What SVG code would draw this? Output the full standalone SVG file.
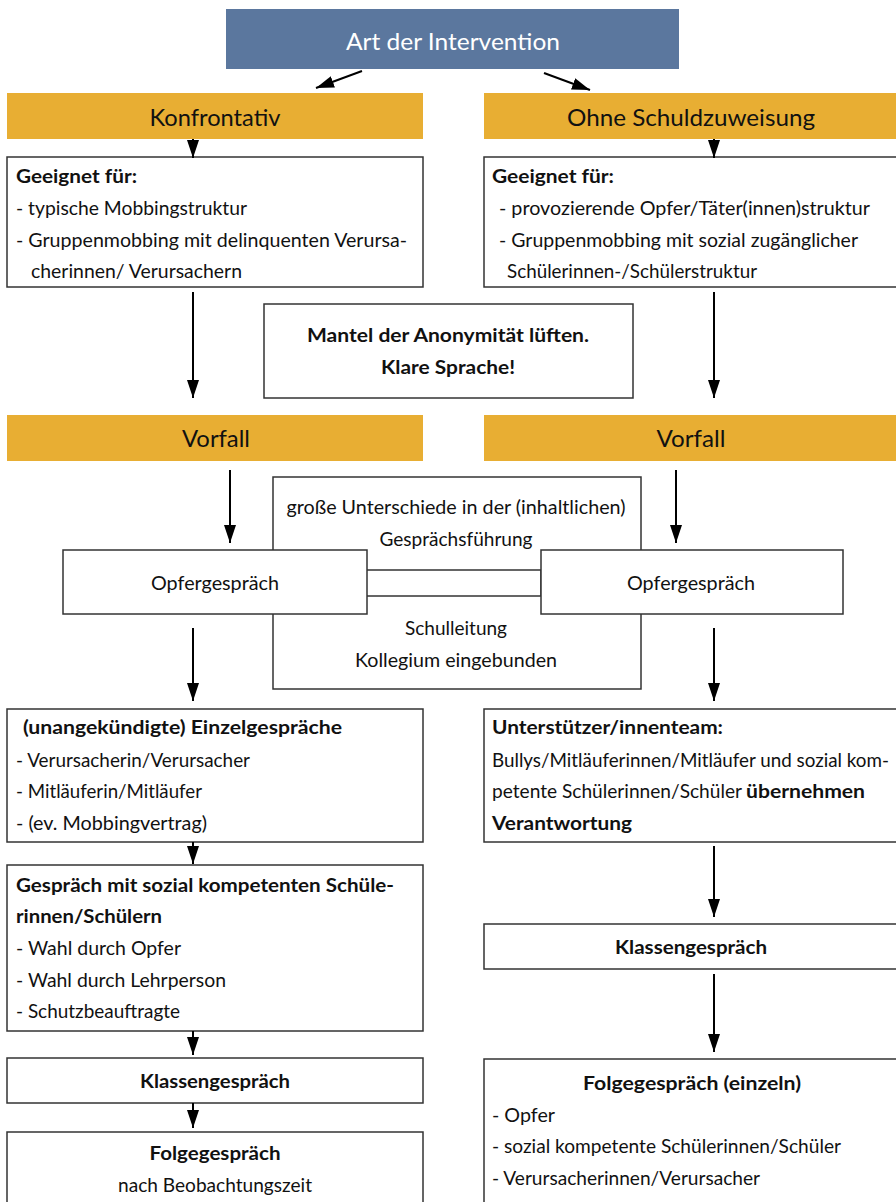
<svg xmlns="http://www.w3.org/2000/svg" width="896" height="1202" viewBox="0 0 896 1202">
<style>
text{font-family:Lato,"Open Sans","Liberation Sans",sans-serif;fill:#111;}
.t{font-size:19px;}
.m{font-size:20px;}
.b{font-size:19px;font-weight:bold;}
.h{font-size:24px;}
.c{text-anchor:middle;}
.box{fill:#fff;stroke:#333;stroke-width:1.5;}
.bar{fill:#e8ae33;}
.con line{stroke:#000;stroke-width:2;marker-end:url(#ah);}
</style>
<defs>
<marker id="ah" viewBox="0 0 18 12" refX="18" refY="6" markerWidth="18" markerHeight="12" markerUnits="userSpaceOnUse" orient="auto">
<path d="M0,0 L18,6 L0,12 z" fill="#000"/>
</marker>
</defs>
<rect width="896" height="1202" fill="#fff"/>

<g id="n-art">
<rect x="226" y="9" width="453" height="60" fill="#5b779e"/>
<text class="h c" x="453" y="50" style="fill:#fff" textLength="214" lengthAdjust="spacingAndGlyphs">Art der Intervention</text>
</g>

<g id="n-konf">
<rect class="bar" x="7" y="93" width="416" height="46"/>
<text class="h c" x="215" y="126" textLength="131" lengthAdjust="spacingAndGlyphs">Konfrontativ</text>
</g>
<g id="n-ohne">
<rect class="bar" x="484" y="93" width="412" height="46"/>
<text class="h c" x="691" y="126" textLength="248" lengthAdjust="spacingAndGlyphs">Ohne Schuldzuweisung</text>
</g>

<g id="n-geeignet-l">
<rect class="box" x="7" y="157" width="416" height="130"/>
<text class="b" x="16" y="183" textLength="121" lengthAdjust="spacingAndGlyphs">Geeignet für:</text>
<text class="t" x="16" y="215" textLength="231" lengthAdjust="spacingAndGlyphs">- typische Mobbingstruktur</text>
<text class="t" x="16" y="247" textLength="391" lengthAdjust="spacingAndGlyphs">- Gruppenmobbing mit delinquenten Verursa-</text>
<text class="t" x="31" y="278" textLength="211" lengthAdjust="spacingAndGlyphs">cherinnen/  Verursachern</text>
</g>
<g id="n-geeignet-r">
<rect class="box" x="484" y="157" width="420" height="130"/>
<text class="b" x="492" y="183" textLength="122" lengthAdjust="spacingAndGlyphs">Geeignet für:</text>
<text class="t" x="499" y="215" textLength="371" lengthAdjust="spacingAndGlyphs">- provozierende Opfer/Täter(innen)struktur</text>
<text class="t" x="499" y="247" textLength="359" lengthAdjust="spacingAndGlyphs">- Gruppenmobbing mit sozial zugänglicher</text>
<text class="t" x="507" y="278" textLength="250" lengthAdjust="spacingAndGlyphs">Schülerinnen-/Schülerstruktur</text>
</g>

<g id="n-mantel">
<rect class="box" x="264" y="304" width="369" height="94"/>
<text class="b c" x="448" y="342" textLength="282" lengthAdjust="spacingAndGlyphs">Mantel der Anonymität lüften.</text>
<text class="b c" x="448" y="374" textLength="134" lengthAdjust="spacingAndGlyphs">Klare Sprache!</text>
</g>

<g id="n-vorfall-l">
<rect class="bar" x="7" y="415" width="416" height="46"/>
<text class="h c" x="216" y="447" textLength="68" lengthAdjust="spacingAndGlyphs">Vorfall</text>
</g>
<g id="n-vorfall-r">
<rect class="bar" x="484" y="415" width="412" height="46"/>
<text class="h c" x="691" y="447" textLength="69" lengthAdjust="spacingAndGlyphs">Vorfall</text>
</g>

<g id="n-mitte">
<rect class="box" x="273" y="477" width="368" height="212"/>
<rect class="box" x="366" y="570" width="175" height="26"/>
<text class="t c" x="456" y="514" textLength="339" lengthAdjust="spacingAndGlyphs">große Unterschiede in der (inhaltlichen)</text>
<text class="t c" x="456" y="546" textLength="153" lengthAdjust="spacingAndGlyphs">Gesprächsführung</text>
<text class="t c" x="456" y="635" textLength="102" lengthAdjust="spacingAndGlyphs">Schulleitung</text>
<text class="t c" x="456" y="667" textLength="202" lengthAdjust="spacingAndGlyphs">Kollegium eingebunden</text>
</g>

<g id="n-opfer-l">
<rect class="box" x="63" y="550" width="304" height="64"/>
<text class="m c" x="215" y="590" textLength="128" lengthAdjust="spacingAndGlyphs">Opfergespräch</text>
</g>
<g id="n-opfer-r">
<rect class="box" x="541" y="550" width="302" height="64"/>
<text class="m c" x="691" y="590" textLength="128" lengthAdjust="spacingAndGlyphs">Opfergespräch</text>
</g>

<g id="n-einzel">
<rect class="box" x="7" y="709" width="416" height="133"/>
<text class="b" x="23" y="734" textLength="319" lengthAdjust="spacingAndGlyphs">(unangekündigte) Einzelgespräche</text>
<text class="t" x="16" y="767" textLength="234" lengthAdjust="spacingAndGlyphs">- Verursacherin/Verursacher</text>
<text class="t" x="16" y="798" textLength="186" lengthAdjust="spacingAndGlyphs">- Mitläuferin/Mitläufer</text>
<text class="t" x="16" y="830" textLength="191" lengthAdjust="spacingAndGlyphs">- (ev. Mobbingvertrag)</text>
</g>

<g id="n-gespraech">
<rect class="box" x="7" y="865" width="416" height="166"/>
<text class="b" x="16" y="892" textLength="378" lengthAdjust="spacingAndGlyphs">Gespräch mit sozial kompetenten Schüle-</text>
<text class="b" x="16" y="923" textLength="146" lengthAdjust="spacingAndGlyphs">rinnen/Schülern</text>
<text class="t" x="16" y="955" textLength="165" lengthAdjust="spacingAndGlyphs">- Wahl durch Opfer</text>
<text class="t" x="16" y="987" textLength="210" lengthAdjust="spacingAndGlyphs">- Wahl durch Lehrperson</text>
<text class="t" x="16" y="1018" textLength="164" lengthAdjust="spacingAndGlyphs">- Schutzbeauftragte</text>
</g>

<g id="n-klasse-l">
<rect class="box" x="7" y="1058" width="416" height="45"/>
<text class="b c" x="215" y="1088" textLength="150" lengthAdjust="spacingAndGlyphs">Klassengespräch</text>
</g>

<g id="n-folge-l">
<rect class="box" x="7" y="1132" width="416" height="80"/>
<text class="b c" x="215" y="1160" textLength="131" lengthAdjust="spacingAndGlyphs">Folgegespräch</text>
<text class="t c" x="215" y="1192" textLength="194" lengthAdjust="spacingAndGlyphs">nach Beobachtungszeit</text>
</g>

<g id="n-unterstuetzer">
<rect class="box" x="484" y="709" width="420" height="133"/>
<text class="b" x="492" y="734" textLength="231" lengthAdjust="spacingAndGlyphs">Unterstützer/innenteam:</text>
<text class="t" x="492" y="767" textLength="397" lengthAdjust="spacingAndGlyphs">Bullys/Mitläuferinnen/Mitläufer und sozial kom-</text>
<text class="t" x="492" y="798" textLength="250" lengthAdjust="spacingAndGlyphs">petente Schülerinnen/Schüler</text>
<text class="b" x="746" y="798" textLength="119" lengthAdjust="spacingAndGlyphs">übernehmen</text>
<text class="b" x="492" y="830" textLength="140" lengthAdjust="spacingAndGlyphs">Verantwortung</text>
</g>

<g id="n-klasse-r">
<rect class="box" x="484" y="924" width="420" height="45"/>
<text class="b c" x="691" y="954" textLength="152" lengthAdjust="spacingAndGlyphs">Klassengespräch</text>
</g>

<g id="n-folge-r">
<rect class="box" x="484" y="1059" width="420" height="160"/>
<text class="b c" x="692" y="1090" textLength="218" lengthAdjust="spacingAndGlyphs">Folgegespräch (einzeln)</text>
<text class="t" x="492" y="1122" textLength="63" lengthAdjust="spacingAndGlyphs">- Opfer</text>
<text class="t" x="492" y="1153" textLength="349" lengthAdjust="spacingAndGlyphs">- sozial kompetente Schülerinnen/Schüler</text>
<text class="t" x="492" y="1185" textLength="268" lengthAdjust="spacingAndGlyphs">- Verursacherinnen/Verursacher</text>
</g>

<g id="connectors" class="con">
<line x1="362" y1="71" x2="316" y2="88"/>
<line x1="544" y1="73" x2="590" y2="90"/>
<line x1="193" y1="139" x2="193" y2="158"/>
<line x1="714" y1="139" x2="714" y2="158"/>
<line x1="193" y1="292" x2="193" y2="398"/>
<line x1="714" y1="292" x2="714" y2="398"/>
<line x1="230" y1="470" x2="230" y2="543"/>
<line x1="676" y1="470" x2="676" y2="543"/>
<line x1="193" y1="628" x2="193" y2="701"/>
<line x1="714" y1="628" x2="714" y2="701"/>
<line x1="193" y1="842" x2="193" y2="864"/>
<line x1="193" y1="1031" x2="193" y2="1055"/>
<line x1="193" y1="1103" x2="193" y2="1128"/>
<line x1="714" y1="846" x2="714" y2="917"/>
<line x1="714" y1="974" x2="714" y2="1052"/>
</g>
</svg>
